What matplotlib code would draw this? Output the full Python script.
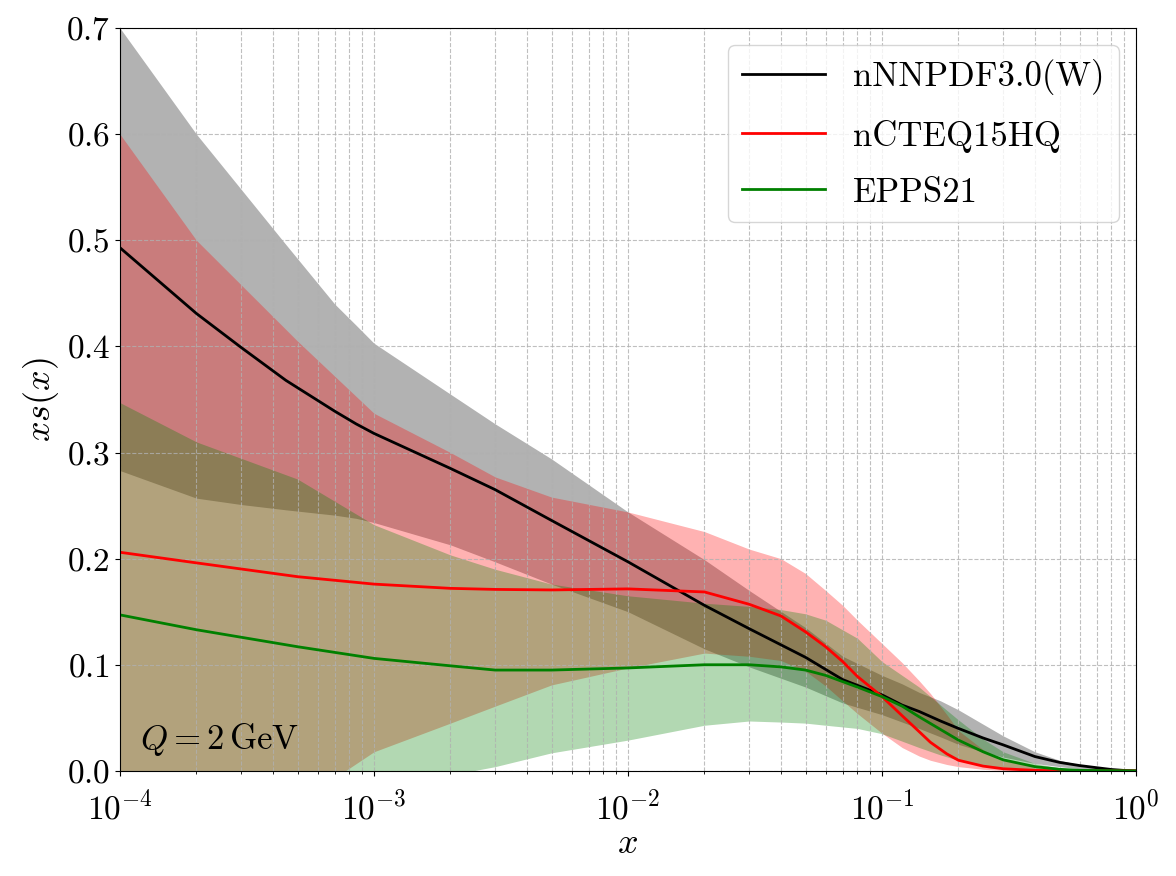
import matplotlib
matplotlib.use("Agg")
import matplotlib.pyplot as plt

plt.rcParams["font.family"] = "serif"
plt.rcParams["font.serif"] = ["cmr10"]
plt.rcParams["mathtext.fontset"] = "cm"
plt.rcParams["axes.formatter.use_mathtext"] = True
plt.rcParams["font.size"] = 24

# nNNPDF3.0(W)
x_nn = [1e-4, 2e-4, 3e-4, 4.5e-4, 7e-4, 8.5e-4, 1e-3, 2e-3, 3e-3, 5e-3, 1e-2, 2e-2, 3e-2,
        5e-2, 7e-2, 0.1, 0.12, 0.14, 0.17, 0.2, 0.25, 0.3, 0.4, 0.5, 0.6, 0.7, 0.8, 0.9, 1.0]
nn_mid = [0.493, 0.431, 0.399, 0.368, 0.339, 0.327, 0.318, 0.285, 0.265, 0.236, 0.197, 0.156, 0.134,
          0.107, 0.086, 0.0716, 0.062, 0.056, 0.047, 0.040, 0.031, 0.0245, 0.0135, 0.008, 0.005,
          0.003, 0.0013, 0.0004, 0.0]
nn_up = [0.700, 0.600, 0.548, 0.496, 0.440, 0.420, 0.403, 0.355, 0.327, 0.294, 0.244, 0.199, 0.170,
         0.135, 0.108, 0.090, 0.082, 0.074, 0.066, 0.0575, 0.044, 0.033, 0.018, 0.010, 0.0057,
         0.003, 0.0015, 0.0005, 0.0]
nn_lo = [0.283, 0.257, 0.251, 0.246, 0.241, 0.238, 0.234, 0.213, 0.197, 0.176, 0.150, 0.115, 0.098,
         0.079, 0.064, 0.053, 0.046, 0.040, 0.032, 0.025, 0.018, 0.013, 0.007, 0.004, 0.002,
         0.001, 0.0005, 0.0002, 0.0]

# nCTEQ15HQ
x_nc = [1e-4, 2e-4, 5e-4, 1e-3, 2e-3, 3e-3, 5e-3, 1e-2, 2e-2, 3e-2, 4e-2, 5e-2,
        6e-2, 7e-2, 8e-2, 0.1, 0.12, 0.14, 0.155, 0.18, 0.2, 0.25, 0.3, 0.4, 0.5, 0.6, 1.0]
nc_mid = [0.206, 0.196, 0.183, 0.176, 0.172, 0.171, 0.1705, 0.1715, 0.1686, 0.157, 0.146, 0.131,
          0.117, 0.103, 0.089, 0.070, 0.052, 0.037, 0.027, 0.016, 0.010, 0.0045, 0.002, 0.0005,
          0.0001, 0.0, 0.0]
nc_up = [0.600, 0.500, 0.405, 0.337, 0.300, 0.277, 0.258, 0.244, 0.2255, 0.209, 0.200, 0.186,
         0.170, 0.156, 0.142, 0.120, 0.102, 0.085, 0.073, 0.053, 0.038, 0.020, 0.010, 0.004,
         0.001, 0.0, 0.0]
nc_lo = [-0.19, -0.11, -0.03, 0.018, 0.045, 0.061, 0.081, 0.097, 0.111, 0.108, 0.104, 0.094,
         0.080, 0.066, 0.054, 0.0355, 0.022, 0.014, 0.010, 0.006, 0.004, 0.0015, 0.0005, 0.0,
         0.0, 0.0, 0.0]

# EPPS21
x_ep = [1e-4, 2e-4, 5e-4, 1e-3, 2e-3, 3e-3, 5e-3, 1e-2, 2e-2, 3e-2, 4e-2, 5e-2,
        6e-2, 8e-2, 0.1, 0.12, 0.14, 0.17, 0.2, 0.25, 0.3, 0.4, 0.5, 0.6, 1.0]
ep_mid = [0.147, 0.133, 0.117, 0.106, 0.099, 0.095, 0.095, 0.097, 0.100, 0.100, 0.098, 0.095,
          0.090, 0.079, 0.070, 0.061, 0.051, 0.039, 0.029, 0.018, 0.0104, 0.004, 0.0015,
          0.0005, 0.0]
ep_up = [0.347, 0.310, 0.275, 0.232, 0.2035, 0.190, 0.176, 0.165, 0.158, 0.155, 0.152, 0.148,
         0.142, 0.125, 0.103, 0.090, 0.079, 0.062, 0.048, 0.030, 0.018, 0.007, 0.003,
         0.0008, 0.0]
ep_lo = [-0.06, -0.05, -0.04, -0.025, -0.004, 0.004, 0.017, 0.029, 0.043, 0.047, 0.046, 0.045,
         0.043, 0.040, 0.035, 0.028, 0.022, 0.015, 0.010, 0.005, 0.003, 0.001, 0.0, 0.0, 0.0]

fig, ax = plt.subplots(figsize=(11.76, 8.76), dpi=100)
fig.subplots_adjust(left=0.102, right=0.966, bottom=0.12, top=0.968)

ax.fill_between(x_nn, nn_lo, nn_up, color="black", alpha=0.3, linewidth=0)
ax.fill_between(x_nc, nc_lo, nc_up, color="red", alpha=0.3, linewidth=0)
ax.fill_between(x_ep, ep_lo, ep_up, color="green", alpha=0.3, linewidth=0)

ax.plot(x_nn, nn_mid, color="black", lw=2, label="nNNPDF3.0(W)")
ax.plot(x_nc, nc_mid, color="red", lw=2, label="nCTEQ15HQ")
ax.plot(x_ep, ep_mid, color="green", lw=2, label="EPPS21")

ax.set_xscale("log")
ax.set_xlim(1e-4, 1)
ax.set_ylim(0, 0.7)
ax.grid(True, which="both", ls="--", color="#b0b0b0", lw=0.8, alpha=0.8)
ax.tick_params(axis="x", which="major", pad=10)
ax.set_xlabel(r"$x$", fontsize=26, labelpad=2)
ax.set_ylabel(r"$xs(x)$", fontsize=26)
ax.text(0.02, 0.03, r"$Q = 2\,\mathrm{GeV}$", transform=ax.transAxes, fontsize=25)
ax.legend(loc="upper right", fontsize=25, labelspacing=0.7, handlelength=2.4)

fig.savefig("out.png", dpi=100)
